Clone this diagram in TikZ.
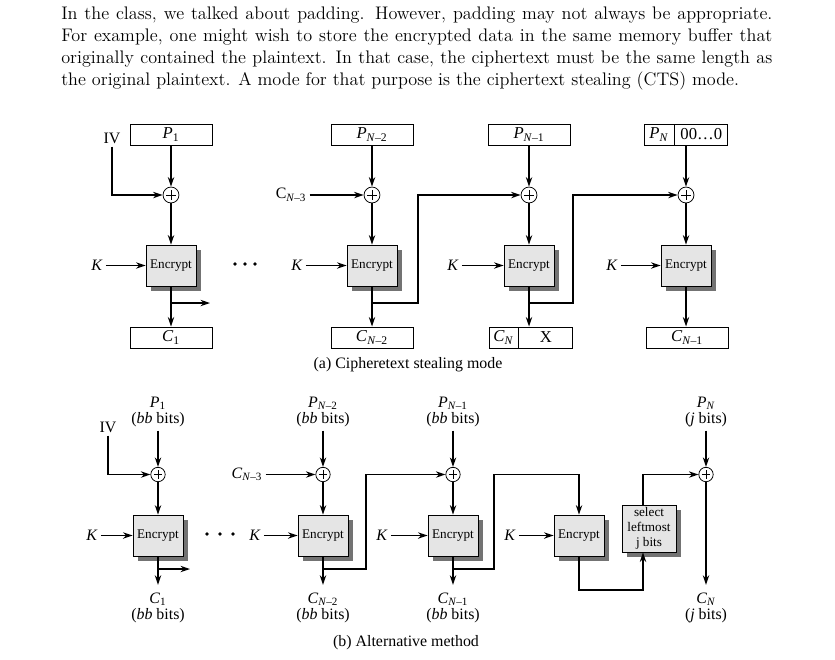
\documentclass[tikz,border=0pt]{standalone}
\usepackage{fontspec}
\newfontfamily\tms{Liberation Serif}
\usetikzlibrary{arrows.meta,positioning,shadows}
\newcommand{\vr}[2]{\textit{#1}\textsubscript{#2}}
\tikzset{
	pbox/.style={draw, line width=0.5pt, minimum width=54pt, minimum height=14pt, inner sep=0pt, font=\tms\fontsize{11}{11}\selectfont},
	encbox/.style={draw, line width=0.5pt, fill=black!10, minimum width=33pt, minimum height=27pt, inner sep=0pt, align=center, font=\tms\fontsize{8.7}{10}\selectfont, drop shadow={shadow xshift=3.3pt, shadow yshift=-3.3pt, fill=black!55, opacity=1}},
	xorc/.style={draw, circle, fill=white, line width=0.5pt, minimum size=10.5pt, inner sep=0pt,
		path picture={\draw[line width=0.5pt] ([yshift=-2pt]path picture bounding box.north) -- ([yshift=2pt]path picture bounding box.south) ([xshift=2pt]path picture bounding box.west) -- ([xshift=-2pt]path picture bounding box.east);}},
	lbl/.style={font=\tms\fontsize{10.5}{11}\selectfont, inner sep=2pt, align=center},
	flow/.style={line width=0.9pt, -{Stealth[length=6.3pt,width=4.2pt]}},
}

\begin{document}
\begin{tikzpicture}[x=0.66pt, y=-0.66pt]
	\useasboundingbox (0,0) rectangle (835,659);
	\node[anchor=north west, inner sep=0pt, text width=469.3pt, align=justify, font=\fontsize{12}{14.5}\selectfont] (intro) at (61,6.5) {In the class, we talked about padding. However, padding may not always be appropriate. For example, one might wish to store the encrypted data in the same memory buffer that originally contained the plaintext. In that case, the ciphertext must be the same length as the original plaintext. A mode for that purpose is the ciphertext stealing (CTS) mode.};

	% (a) ciphertext stealing
	\node[pbox] (pa1) at (171,134.5) {\vr{P}{1}};
	\node[pbox] (pa2) at (372,134.5) {\vr{P}{\textit{N}\textendash2}};
	\node[pbox] (pa3) at (529,134.5) {\vr{P}{\textit{N}\textendash1}};
	\node[pbox, minimum width=19.8pt] (pa4) at (659,134.5) {\vr{P}{\textit{N}}};
	\node[pbox, minimum width=35pt, right=0pt of pa4] (za4) {00\ldots0};
	\foreach \n/\x in {1/171,2/372,3/529,4/686}{
		\node[xorc] (xa\n) at (\x,195) {};
		\node[encbox] (ea\n) at (\x,265.5) {Encrypt};
		};
	\foreach \n/\x in {1/97,2/297,3/453,4/612}{
		\node[lbl] (ka\n) at (\x,265.5) {\textit{K}};
		\draw[flow] (ka\n) -- (ea\n);
		};
	\node[pbox] (ca1) at (171,337.5) {\vr{C}{1}};
	\node[pbox] (ca2) at (372,337.5) {\vr{C}{\textit{N}\textendash2}};
	\node[pbox, minimum width=19.2pt] (ca3) at (503.5,337.5) {\vr{C}{\textit{N}}};
	\node[pbox, minimum width=35.6pt, right=0pt of ca3] (xx3) {X};
	\node[pbox] (ca4) at (687,337.5) {\vr{C}{\textit{N}\textendash1}};
	\node[lbl] (iva) at (112,138) {IV};
	\node[lbl] (cma) at (291,195) {C\textsubscript{\textit{N}\textendash3}};
	\foreach \x in {235,245,255}{
		\fill (\x,264) circle (1.3pt);}
	\coordinate (fa1) at (210,303);
	\coordinate (ta2) at (418,303);
	\coordinate (ta3) at (573,303);

	\draw[flow] (iva) |- (xa1);
	\draw[flow] (cma) -- (xa2);
	\draw[flow] (pa1) -- (xa1);
	\draw[flow] (pa2) -- (xa2);
	\draw[flow] (pa3) -- (xa3);
	\draw[flow] (pa4.south -| xa4) -- (xa4);
	\foreach \n in {1,2,3,4}{
		\draw[flow] (xa\n) -- (ea\n);}
	\draw[flow] (ea1) -- (ca1);
	\draw[flow] (ea2) -- (ca2);
	\draw[flow] (ea3) -- (ea3 |- ca3.north);
	\draw[flow] (ea4) -- (ea4 |- ca4.north);
	\draw[flow] (ea1.south |- fa1) -- (fa1);
	\draw[flow] (ea2.south |- ta2) -- (ta2) |- (xa3);
	\draw[flow] (ea3.south |- ta3) -- (ta3) |- (xa4);
	\node[lbl] (capa) at (408,365) {(a) Cipheretext stealing mode};

	% (b) alternative method
	\node[lbl] (pb1) at (158,412) {\vr{P}{1}\\(\textit{bb} bits)};
	\node[lbl] (pb2) at (323,412) {\vr{P}{\textit{N}\textendash2}\\(\textit{bb} bits)};
	\node[lbl] (pb3) at (453,412) {\vr{P}{\textit{N}\textendash1}\\(\textit{bb} bits)};
	\node[lbl] (pb5) at (706,412) {\vr{P}{\textit{N}}\\(\textit{j} bits)};
	\foreach \n/\x in {1/158,2/323,3/453,5/706}{
		\node[xorc, minimum size=9.5pt] (xb\n) at (\x,474.5) {};
		};
	\foreach \n/\x in {1/158,2/323,3/453,4/579}{
		\node[encbox] (eb\n) at (\x,535.5) {Encrypt};
		};
	\foreach \n/\x in {1/92,2/255,3/382,4/510}{
		\node[lbl] (kb\n) at (\x,535.5) {\textit{K}};
		\draw[flow] (kb\n) -- (eb\n);
		};
	\node[encbox, minimum width=35.6pt, minimum height=31pt] (sel) at (649,528.5) {select\\leftmost\\j bits};
	\node[lbl] (cb1) at (158,608) {\vr{C}{1}\\(\textit{bb} bits)};
	\node[lbl] (cb2) at (323,608) {\vr{C}{\textit{N}\textendash2}\\(\textit{bb} bits)};
	\node[lbl] (cb3) at (453,608) {\vr{C}{\textit{N}\textendash1}\\(\textit{bb} bits)};
	\node[lbl] (cb5) at (706,608) {\vr{C}{\textit{N}}\\(\textit{j} bits)};
	\node[lbl] (ivb) at (108,427) {IV};
	\node[lbl] (cmb) at (247,474.5) {\vr{C}{\textit{N}\textendash3}};
	\foreach \x in {207,220,233}{
		\fill (\x,534) circle (1.3pt);}
	\coordinate (fb1) at (190,569);
	\coordinate (tb2) at (366,569);
	\coordinate (tb3) at (494,569);
	\coordinate (sb) at (643,590);

	\draw[flow] (ivb) |- (xb1);
	\draw[flow] (cmb) -- (xb2);
	\foreach \n in {1,2,3,5}{
		\draw[flow] (pb\n) -- (xb\n);}
	\foreach \n in {1,2,3}{
		\draw[flow] (xb\n) -- (eb\n);}
	\draw[flow, shorten >=3pt] (eb1) -- (eb1 |- cb1.north);
	\draw[flow, shorten >=3pt] (eb2) -- (eb2 |- cb2.north);
	\draw[flow, shorten >=3pt] (eb3) -- (eb3 |- cb3.north);
	\draw[flow, shorten >=3pt] (xb5) -- (cb5);
	\draw[flow] (eb1.south |- fb1) -- (fb1);
	\draw[flow] (eb2.south |- tb2) -- (tb2) |- (xb3);
	\draw[flow] (eb3.south |- tb3) -- (tb3) -- (tb3 |- xb3) -| (eb4);
	\draw[flow] (eb4) |- (sb) -- (sb |- sel.south);
	\draw[flow] (sb |- sel.north) |- (xb5);
	\node[lbl] (capb) at (406,643) {(b) Alternative method};
\end{tikzpicture}
\end{document}
